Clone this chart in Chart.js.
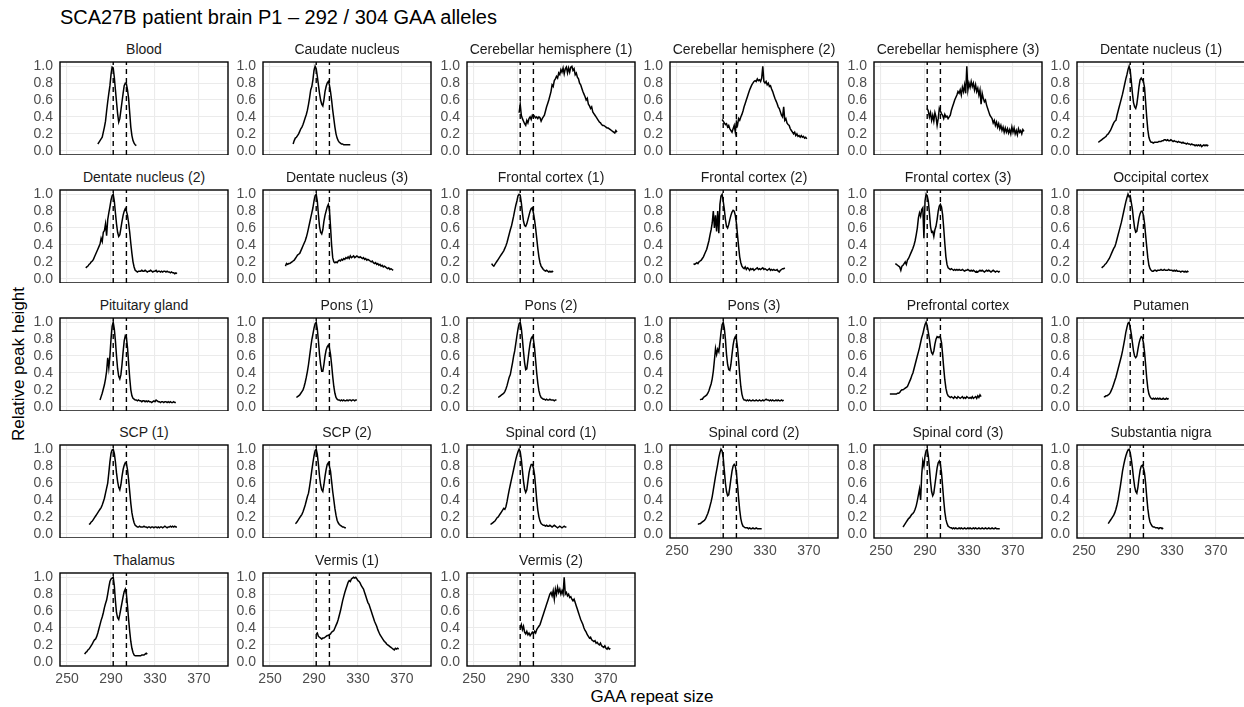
<!DOCTYPE html>
<html><head><meta charset="utf-8">
<script src="https://cdn.jsdelivr.net/npm/chart.js@4.4.1/dist/chart.umd.min.js"></script>
<style>
html,body{margin:0;padding:0;background:#fff}
body{width:1244px;height:707px;position:relative;overflow:hidden;font-family:'Liberation Sans',Arial,Helvetica,sans-serif}
canvas{position:absolute}
.strip{position:absolute;width:168px;text-align:center;font-size:14px;line-height:16px;color:#1a1a1a;white-space:nowrap}
#title{position:absolute;left:60px;top:5px;font-size:20px;line-height:24px;color:#000;white-space:nowrap}
#xtitle{position:absolute;left:452px;top:687px;width:400px;height:20px;line-height:20px;font-size:17px;text-align:center;color:#000}
#ytitle{position:absolute;left:-131px;top:354px;width:300px;height:20px;line-height:20px;font-size:17px;text-align:center;color:#000;transform:rotate(-90deg)}
</style></head><body>
<div id="title">SCA27B patient brain P1 – 292 / 304 GAA alleles</div>
<div id="xtitle">GAA repeat size</div>
<div id="ytitle">Relative peak height</div>
<script>
// ---------------- data ----------------
const categories = ["Blood","Caudate nucleus","Cerebellar hemisphere (1)","Cerebellar hemisphere (2)","Cerebellar hemisphere (3)","Dentate nucleus (1)",
  "Dentate nucleus (2)","Dentate nucleus (3)","Frontal cortex (1)","Frontal cortex (2)","Frontal cortex (3)","Occipital cortex",
  "Pituitary gland","Pons (1)","Pons (2)","Pons (3)","Prefrontal cortex","Putamen",
  "SCP (1)","SCP (2)","Spinal cord (1)","Spinal cord (2)","Spinal cord (3)","Substantia nigra",
  "Thalamus","Vermis (1)","Vermis (2)"];
// first repeat size of each series (values follow at consecutive repeat sizes)
const xStart = [278,271,291,291,292,263, 267,264,266,265,263,266, 280,274,272,271,258,268, 270,273,265,269,270,272, 266,292,292];
const alleles = [292, 304];
const xTicks = [250, 290, 330, 370];
const yTicks = [0, 0.2, 0.4, 0.6, 0.8, 1.0];

const blood = [.08,.10,.12,.14,.16,.22,.28,.35,.47,.58,.68,.77,.90,.99,.98,.87,.72,.58,.44,.34,.38,.48,.58,.68,.77,.80,.79,.72,.62,.45,.28,.18,.12,.09,.07,.06];
const caudate = [.08,.12,.15,.16,.18,.20,.23,.26,.28,.31,.35,.39,.43,.48,.55,.63,.72,.76,.84,.95,1.0,.97,.88,.78,.68,.60,.55,.53,.60,.70,.76,.80,.82,.78,.70,.60,.48,.38,.28,.20,.15,.12,.10,.09,.08,.08,.07,.07,.07,.07,.07,.07,.07];
const cereb1 = [.45,.55,.42,.38,.35,.32,.30,.36,.33,.38,.40,.37,.42,.40,.41,.39,.40,.38,.40,.39,.35,.38,.40,.42,.47,.52,.56,.60,.65,.70,.78,.76,.83,.85,.88,.86,.92,.90,.96,.93,.98,.91,.97,.99,.92,.98,.93,.99,1.0,.95,.97,.90,.92,.87,.85,.80,.78,.74,.70,.67,.64,.60,.62,.55,.53,.50,.52,.46,.44,.42,.40,.38,.36,.34,.33,.31,.30,.30,.29,.28,.27,.27,.26,.25,.24,.23,.22,.21,.24,.22];
const cereb2 = [.37,.35,.33,.31,.32,.28,.30,.26,.24,.22,.26,.30,.22,.34,.30,.38,.36,.40,.43,.47,.52,.56,.60,.64,.68,.72,.75,.78,.80,.82,.83,.82,.85,.83,.84,.82,.86,1.0,.82,.80,.82,.78,.80,.76,.77,.73,.70,.66,.62,.59,.56,.52,.50,.46,.42,.40,.52,.36,.38,.33,.31,.30,.26,.24,.22,.20,.22,.18,.20,.17,.18,.16,.18,.16,.17,.15,.16,.14];
const cereb3 = [.50,.47,.40,.45,.36,.42,.35,.45,.40,.30,.38,.50,.47,.44,.42,.38,.43,.40,.41,.38,.40,.42,.48,.52,.56,.60,.63,.66,.70,.68,.72,.66,.75,.70,.78,.68,1.0,.72,.80,.75,.82,.76,.80,.72,.78,.70,.74,.66,.72,.55,.68,.62,.58,.60,.54,.50,.46,.42,.40,.38,.33,.36,.30,.34,.28,.32,.26,.30,.24,.28,.22,.27,.22,.26,.21,.25,.20,.28,.22,.27,.20,.24,.19,.26,.22,.24,.20,.25,.23];
const dentate1 = [.10,.11,.12,.13,.14,.15,.16,.17,.19,.20,.22,.24,.27,.30,.33,.35,.36,.42,.47,.52,.57,.62,.67,.73,.79,.85,.90,.96,1.0,.95,.82,.68,.57,.52,.50,.55,.65,.76,.84,.86,.84,.82,.75,.58,.40,.25,.16,.12,.10,.10,.09,.10,.10,.10,.10,.11,.11,.11,.12,.12,.13,.13,.12,.13,.12,.12,.13,.12,.11,.12,.11,.11,.10,.11,.10,.10,.09,.10,.09,.09,.08,.09,.08,.08,.07,.08,.07,.07,.06,.07,.06,.07,.06,.07,.05,.06,.07,.06,.07,.06,.07];
const dentate2 = [.13,.14,.15,.17,.18,.20,.21,.23,.26,.29,.32,.35,.38,.41,.48,.44,.55,.57,.65,.51,.70,.78,.85,.93,.98,1.0,.92,.78,.65,.55,.50,.52,.60,.68,.75,.80,.83,.80,.75,.66,.55,.42,.30,.20,.14,.10,.09,.08,.09,.09,.09,.10,.09,.09,.10,.09,.08,.09,.09,.10,.09,.08,.09,.09,.10,.08,.09,.09,.08,.09,.08,.09,.09,.08,.09,.08,.08,.07,.08,.07,.07,.06,.07,.06];
const dentate3 = [.15,.18,.17,.18,.18,.19,.20,.21,.22,.24,.26,.28,.29,.30,.33,.36,.39,.42,.45,.49,.54,.60,.66,.72,.78,.84,.92,.98,1.0,.92,.76,.62,.55,.53,.58,.68,.75,.80,.85,.88,.82,.62,.40,.25,.20,.19,.20,.19,.21,.22,.21,.23,.22,.24,.23,.25,.24,.26,.24,.27,.25,.26,.27,.25,.26,.27,.26,.25,.26,.25,.24,.25,.23,.24,.22,.23,.22,.21,.20,.21,.19,.18,.19,.17,.18,.16,.17,.15,.16,.14,.15,.14,.13,.12,.13,.11,.12,.11,.10];
const frontal1 = [.18,.16,.15,.17,.19,.21,.23,.25,.27,.29,.31,.33,.36,.39,.43,.48,.53,.58,.62,.68,.74,.81,.87,.92,.98,1.0,.99,.90,.78,.68,.63,.62,.65,.70,.75,.80,.83,.84,.78,.70,.60,.48,.36,.26,.19,.15,.13,.11,.10,.09,.10,.09,.08,.09,.08,.09,.08];
const frontal2 = [.18,.17,.18,.19,.18,.20,.21,.22,.24,.26,.29,.32,.35,.40,.45,.52,.58,.66,.80,.60,.75,.56,.80,.54,.88,.98,1.0,.92,.82,.70,.62,.60,.64,.70,.75,.79,.81,.80,.75,.66,.52,.38,.26,.19,.15,.13,.12,.14,.11,.13,.12,.10,.12,.11,.12,.10,.11,.12,.13,.11,.12,.11,.12,.13,.11,.12,.11,.10,.11,.12,.10,.11,.10,.11,.10,.10,.11,.09,.08,.10,.11,.12,.12,.13];
const frontal3 = [.18,.17,.16,.15,.14,.10,.15,.16,.18,.20,.17,.22,.24,.27,.30,.33,.36,.40,.45,.52,.60,.72,.78,.74,.82,.84,.48,.92,1.0,.98,.92,.78,.62,.55,.56,.50,.58,.62,.70,.80,.86,.88,.85,.76,.60,.42,.26,.17,.13,.12,.11,.12,.11,.10,.11,.10,.11,.10,.11,.10,.10,.11,.10,.09,.10,.10,.11,.10,.09,.10,.09,.10,.09,.08,.09,.08,.09,.10,.09,.10,.09,.08,.09,.10,.09,.10,.09,.08,.09,.10,.09,.08,.09,.09,.08,.09];
const occipital = [.13,.14,.15,.17,.18,.20,.22,.24,.27,.30,.33,.36,.38,.42,.47,.52,.57,.62,.67,.73,.79,.85,.91,.96,1.0,.97,.98,.90,.82,.70,.60,.55,.56,.64,.72,.77,.80,.80,.75,.66,.52,.38,.25,.16,.12,.10,.09,.09,.10,.10,.09,.10,.10,.10,.11,.10,.10,.11,.10,.10,.10,.11,.10,.10,.10,.09,.10,.09,.10,.09,.09,.09,.08,.09,.09,.08,.09,.08,.09,.08];
const pituitary = [.08,.12,.16,.21,.26,.33,.42,.58,.46,.60,.80,.95,1.0,.92,.78,.60,.45,.36,.33,.38,.50,.65,.78,.84,.82,.70,.52,.34,.20,.13,.10,.09,.08,.08,.07,.08,.07,.07,.06,.07,.07,.06,.07,.06,.07,.06,.06,.05,.06,.07,.06,.08,.07,.06,.06,.05,.06,.06,.05,.06,.06,.05,.06,.05,.06,.05,.05,.06,.05,.05];
const pons1 = [.11,.12,.13,.14,.16,.18,.20,.24,.29,.35,.42,.50,.60,.70,.79,.86,.93,.98,1.0,.92,.78,.62,.50,.42,.42,.50,.60,.67,.71,.73,.70,.62,.50,.36,.24,.16,.11,.09,.08,.08,.07,.08,.07,.08,.07,.07,.08,.07,.08,.08,.07,.08,.08,.07,.08,.08];
const pons2 = [.11,.12,.13,.14,.15,.16,.18,.21,.25,.30,.35,.38,.45,.52,.60,.66,.75,.84,.92,.98,1.0,.93,.80,.65,.52,.44,.45,.55,.66,.75,.81,.83,.80,.70,.55,.40,.28,.19,.14,.11,.10,.09,.09,.08,.09,.08,.08,.09,.08,.08,.08,.07,.08,.08];
const pons3 = [.08,.09,.09,.11,.12,.13,.14,.16,.19,.23,.27,.33,.42,.55,.69,.62,.68,.65,.76,.88,.97,1.0,.93,.80,.62,.50,.44,.43,.50,.62,.73,.80,.83,.80,.70,.55,.38,.24,.15,.10,.08,.08,.07,.08,.07,.08,.07,.07,.08,.07,.07,.08,.07,.07,.08,.07,.07,.08,.07,.08,.09,.08,.08,.07,.08,.07,.08,.07,.07,.08,.07,.08,.07,.07,.08,.07,.08];
const prefrontal = [.15,.15,.15,.15,.15,.15,.15,.16,.16,.17,.19,.20,.20,.21,.22,.23,.24,.27,.30,.33,.37,.40,.45,.50,.55,.60,.65,.70,.76,.82,.86,.92,.97,1.0,.96,.88,.80,.70,.64,.62,.66,.74,.80,.83,.82,.83,.82,.76,.62,.46,.32,.22,.16,.13,.12,.11,.12,.11,.10,.12,.11,.10,.12,.11,.10,.11,.12,.10,.11,.10,.12,.11,.10,.11,.10,.12,.10,.11,.12,.10,.13,.11,.14,.12];
const putamen = [.12,.12,.13,.13,.14,.15,.17,.20,.23,.27,.31,.35,.40,.45,.50,.55,.60,.66,.73,.80,.88,.94,.99,1.0,.94,.86,.76,.66,.60,.58,.60,.68,.75,.80,.83,.82,.76,.65,.50,.34,.22,.15,.12,.10,.09,.10,.09,.10,.09,.10,.09,.10,.09,.09,.10,.09,.09,.10,.09,.10];
const scp1 = [.11,.12,.14,.15,.17,.19,.21,.23,.25,.27,.29,.31,.34,.38,.42,.48,.54,.60,.72,.85,.95,.99,1.0,.95,.85,.72,.62,.55,.52,.58,.68,.76,.81,.84,.83,.76,.64,.50,.36,.25,.18,.13,.10,.09,.08,.08,.09,.08,.08,.08,.09,.08,.08,.07,.08,.08,.07,.08,.08,.07,.08,.08,.07,.08,.07,.08,.08,.07,.08,.09,.08,.07,.08,.08,.09,.08,.09,.08,.09,.08,.08];
const scp2 = [.12,.13,.15,.17,.19,.21,.23,.26,.30,.34,.39,.44,.48,.56,.65,.75,.84,.92,.98,1.0,.94,.82,.68,.58,.52,.50,.58,.68,.76,.82,.84,.80,.74,.62,.50,.40,.30,.22,.16,.13,.11,.10,.09,.08,.08,.07,.07];
const spinal1 = [.11,.12,.13,.14,.15,.17,.19,.20,.22,.24,.26,.28,.30,.29,.32,.38,.45,.52,.58,.64,.70,.76,.82,.88,.93,.97,1.0,.97,.88,.75,.62,.53,.49,.52,.62,.72,.78,.82,.82,.78,.70,.56,.40,.28,.20,.15,.12,.11,.10,.10,.09,.10,.09,.09,.10,.09,.08,.09,.10,.09,.08,.07,.08,.09,.08,.07,.08,.09,.08,.08];
const spinal2 = [.11,.12,.12,.13,.14,.15,.16,.18,.21,.24,.28,.33,.38,.44,.52,.60,.68,.75,.82,.90,.96,1.0,.98,.90,.75,.60,.50,.45,.46,.55,.65,.74,.80,.82,.80,.72,.58,.42,.28,.18,.12,.09,.08,.07,.07,.07,.06,.07,.06,.06,.07,.06,.06,.07,.06,.06,.06,.06,.06];
const spinal3 = [.08,.10,.12,.14,.16,.18,.19,.21,.23,.24,.26,.29,.33,.39,.46,.53,.40,.70,.86,.80,.92,.98,1.0,.92,.78,.62,.50,.45,.48,.58,.68,.78,.84,.86,.82,.72,.56,.40,.26,.17,.12,.09,.08,.07,.07,.06,.07,.06,.07,.06,.06,.07,.06,.07,.06,.06,.07,.06,.06,.07,.06,.07,.06,.06,.07,.06,.07,.06,.06,.07,.06,.06,.07,.06,.06,.07,.06,.06,.07,.06,.06,.07,.06,.06,.07,.06,.06,.06,.06];
const nigra = [.12,.14,.16,.18,.20,.22,.25,.29,.34,.40,.48,.56,.65,.74,.81,.87,.92,.96,.99,1.0,.96,.88,.78,.66,.56,.50,.48,.55,.66,.75,.80,.81,.78,.72,.60,.44,.30,.20,.14,.11,.09,.08,.08,.07,.07,.07,.06,.07,.07,.06,.07];
const thalamus = [.09,.11,.12,.14,.15,.17,.19,.21,.24,.26,.27,.30,.34,.39,.44,.49,.53,.58,.64,.69,.73,.80,.88,.95,.98,.99,1.0,.90,.72,.58,.52,.50,.56,.63,.70,.77,.83,.86,.80,.66,.50,.36,.24,.16,.11,.08,.07,.07,.07,.07,.07,.07,.08,.08,.08,.09,.10,.09];
const vermis1 = [.33,.34,.30,.29,.28,.27,.28,.28,.29,.30,.31,.31,.32,.33,.35,.36,.37,.40,.43,.46,.50,.55,.60,.66,.72,.77,.82,.86,.90,.94,.96,.95,.98,.99,1.0,.99,1.0,.98,.96,.95,.93,.90,.88,.86,.82,.78,.74,.70,.68,.64,.60,.56,.52,.48,.45,.42,.38,.35,.32,.30,.28,.26,.24,.23,.21,.20,.19,.18,.17,.16,.15,.14,.16,.15,.16,.15];
const vermis2 = [.40,.44,.38,.42,.35,.33,.36,.32,.34,.31,.33,.35,.33,.36,.34,.38,.40,.42,.44,.48,.52,.56,.60,.64,.68,.72,.76,.80,.82,.78,.84,.74,.86,.80,.88,.82,.86,.80,.84,.80,1.0,.80,.82,.78,.80,.76,.77,.74,.72,.74,.70,.66,.62,.58,.54,.50,.47,.44,.40,.37,.35,.32,.30,.28,.29,.26,.25,.24,.25,.22,.23,.21,.20,.22,.19,.18,.17,.19,.16,.15,.17,.15,.16];

const seriesValues = [blood,caudate,cereb1,cereb2,cereb3,dentate1,dentate2,dentate3,frontal1,frontal2,frontal3,occipital,
  pituitary,pons1,pons2,pons3,prefrontal,putamen,scp1,scp2,spinal1,spinal2,spinal3,nigra,thalamus,vermis1,vermis2];

// ---------------- layout / style ----------------
const X_MIN = 243.6, X_MAX = 396.4, Y_MIN = -0.05, Y_MAX = 1.05;
const NCOL = 6, PANEL_W = 168, PANEL_H = 93, LEFT0 = 60, COL_PITCH = 203.4, TOP0 = 62.3, ROW_PITCH = 127.6;
const YAXIS_W = 60, XAXIS_H = 30, PAD = 3;

Chart.defaults.font.family = "'Liberation Sans', Arial, Helvetica, sans-serif";
Chart.defaults.font.size = 14;

const panelBorder = {
  id: 'panelBorder',
  afterDraw(chart) {
    const {ctx, chartArea: a} = chart;
    ctx.save();
    ctx.strokeStyle = '#000';
    ctx.lineWidth = 1.4;
    ctx.strokeRect(a.left, a.top, a.right - a.left, a.bottom - a.top);
    ctx.restore();
  }
};

function zeroPad(s) { s.paddingLeft = 0; s.paddingRight = 0; s.paddingTop = 0; s.paddingBottom = 0; }

categories.forEach((name, i) => {
  const r = Math.floor(i / NCOL), c = i % NCOL;
  const bottom = i + NCOL >= categories.length;
  const pl = Math.round(LEFT0 + c * COL_PITCH), pt = Math.round(TOP0 + r * ROW_PITCH);
  const w = YAXIS_W + PANEL_W + PAD, h = PAD + PANEL_H + (bottom ? XAXIS_H : 0);
  const cv = document.createElement('canvas');
  cv.width = w; cv.height = h;
  cv.style.width = w + 'px'; cv.style.height = h + 'px';
  cv.style.left = (pl - YAXIS_W) + 'px'; cv.style.top = (pt - PAD) + 'px';
  document.body.appendChild(cv);

  const strip = document.createElement('div');
  strip.className = 'strip';
  strip.textContent = name;
  strip.style.left = pl + 'px';
  strip.style.top = (pt - 21) + 'px';
  document.body.appendChild(strip);

  const pts = seriesValues[i].map((y, k) => ({x: xStart[i] + k, y: y}));
  const datasets = alleles.map(a => ({
    data: [{x: a, y: Y_MIN}, {x: a, y: Y_MAX}],
    borderColor: '#000', borderWidth: 1.4, borderDash: [5, 4], pointRadius: 0, fill: false
  }));
  datasets.push({data: pts, borderColor: '#000', borderWidth: 1.5, pointRadius: 0, tension: 0, fill: false});

  const gridOpts = {color: '#ebebeb', lineWidth: 1.1, drawTicks: false};
  new Chart(cv, {
    type: 'line',
    data: {datasets},
    plugins: [panelBorder],
    options: {
      responsive: false, animation: false, devicePixelRatio: 1, events: [],
      layout: {padding: {top: PAD, right: PAD, left: 0, bottom: 0}},
      plugins: {legend: {display: false}, tooltip: {enabled: false}},
      scales: {
        x: {
          type: 'linear', min: X_MIN, max: X_MAX,
          afterBuildTicks: s => { s.ticks = xTicks.map(v => ({value: v})); },
          afterFit: s => { s.height = bottom ? XAXIS_H : 0; zeroPad(s); },
          grid: gridOpts, border: {display: false},
          ticks: {display: bottom, padding: 5, color: '#4d4d4d', font: {size: 14}, autoSkip: false, maxRotation: 0, callback: v => String(v)}
        },
        y: {
          type: 'linear', min: Y_MIN, max: Y_MAX,
          afterBuildTicks: s => { s.ticks = yTicks.map(v => ({value: v})); },
          afterFit: s => { s.width = YAXIS_W; zeroPad(s); },
          grid: gridOpts, border: {display: false},
          ticks: {padding: 7, color: '#4d4d4d', font: {size: 14}, autoSkip: false, callback: v => Number(v).toFixed(1)}
        }
      }
    }
  });
});
</script>
</body></html>
